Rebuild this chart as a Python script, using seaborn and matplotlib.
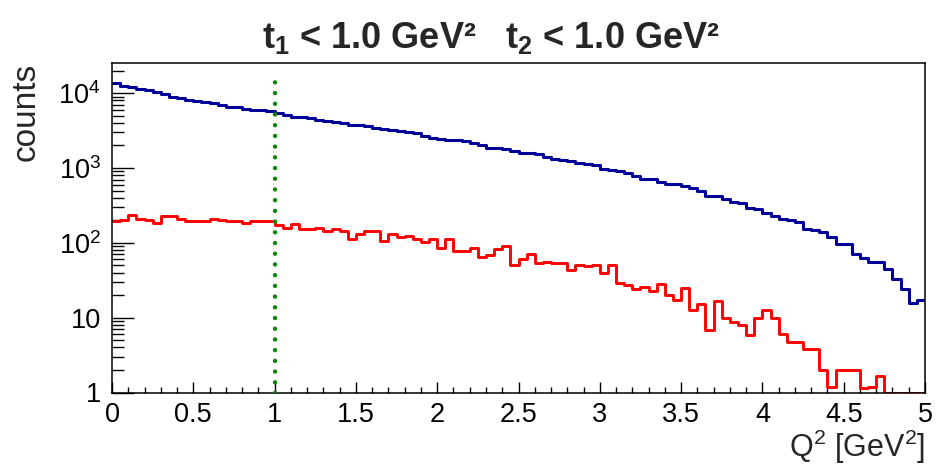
import numpy as np
import pandas as pd
import matplotlib
matplotlib.use("Agg")
import matplotlib.pyplot as plt
import seaborn as sns
from matplotlib.ticker import FixedLocator, MultipleLocator, NullFormatter, LogLocator, FuncFormatter

# Q^2 binning: 100 bins between 0 and 5 GeV^2
q2_min, q2_max, n_bins = 0.0, 5.0, 100
t_cut = 1.0  # GeV^2, green marker line

# counts per bin, all events (blue)
blue_counts = [13800, 12600, 12200, 11400, 11000, 10500, 9750, 9000, 8650, 8200,
               7850, 7650, 7300, 7000, 6550, 6450, 6100, 6000, 5900, 5700,
               5400, 5050, 4850, 4800, 4600, 4330, 4300, 4070, 4030, 3800,
               3700, 3600, 3450, 3280, 3250, 3100, 3030, 2900, 2700, 2500,
               2460, 2390, 2340, 2290, 2150, 2030, 1870, 1830, 1770, 1670,
               1600, 1590, 1540, 1420, 1300, 1290, 1250, 1150, 1140, 1080,
               980, 930, 920, 850, 780, 720, 710, 650, 620, 615,
               580, 545, 490, 425, 420, 387, 353, 336, 294, 279,
               254, 229, 207, 199, 191, 155, 147, 140, 118, 95,
               95, 70, 63, 56, 56, 44, 33, 24, 15.7, 17.4]

# counts per bin, selected events (red); empty bins drawn on the axis floor
red_counts = [195, 203, 234, 211, 203, 185, 225, 225, 207, 195,
              195, 195, 207, 201, 195, 195, 185, 195, 195, 195,
              172, 160, 177, 154, 154, 160, 144, 154, 143, 111,
              133, 143, 143, 105, 130, 119, 123, 114, 101, 111,
              86, 112, 78, 78, 86, 64, 68, 82, 91, 50,
              60, 70, 54, 56, 54, 54, 43, 51, 49, 51,
              40, 50, 29, 27, 24, 26, 23, 28.5, 20, 17.4,
              25, 12.8, 15.4, 6.8, 16.7, 9.9, 8.7, 7.9, 5.9, 10,
              12.8, 10, 6, 4.8, 4.8, 3.8, 3.8, 2, 1.2, 2,
              2, 2, 1.15, 1.2, 1.64, 1, 1, 1, 1, 1]

y_range = (1, 25500)
cut_line_top = 15500

y_ticks = [1, 10, 100, 1000, 10000]
y_ticklabels = ["1", "10", "10$^2$", "10$^3$", "10$^4$"]

sns.set_style("white")
plt.rcParams['font.family'] = ['Liberation Sans', 'DejaVu Sans']
plt.rcParams['mathtext.default'] = 'regular'

edges = np.linspace(q2_min, q2_max, n_bins + 1)
df = pd.DataFrame({
    "q2": 0.5 * (edges[:-1] + edges[1:]),
    "all": blue_counts,
    "sel": red_counts,
})

fig = plt.figure(figsize=(9.43, 4.70), dpi=100)
ax = fig.add_axes([112 / 943, 1 - 392.5 / 470, (925 - 112) / 943, (392.5 - 62.7) / 470])

sns.histplot(data=df, x="q2", weights="all", bins=n_bins, binrange=(q2_min, q2_max),
             element="step", fill=False, color="#000099", linewidth=2.2, ax=ax)
sns.histplot(data=df, x="q2", weights="sel", bins=n_bins, binrange=(q2_min, q2_max),
             element="step", fill=False, color="#ff0000", linewidth=2.1, ax=ax)
ax.vlines(t_cut, y_range[0], cut_line_top, color="#0a870a", linewidth=3.2,
          linestyles=[(0, (0.01, 2.4))], capstyle="round", zorder=3)

ax.set_yscale("log")
ax.set_xlim(q2_min, q2_max)
ax.set_ylim(*y_range)

ax.yaxis.set_major_locator(FixedLocator(y_ticks))
ax.set_yticklabels(y_ticklabels)
ax.yaxis.set_minor_locator(LogLocator(base=10, subs=np.arange(2, 10)))
ax.yaxis.set_minor_formatter(NullFormatter())
ax.xaxis.set_major_locator(MultipleLocator(0.5))
ax.xaxis.set_minor_locator(MultipleLocator(0.1))
ax.xaxis.set_major_formatter(FuncFormatter(lambda v, p: f"{v:g}"))

ax.tick_params(axis="both", which="both", direction="in", labelsize=19.5, colors="black",
               bottom=True, left=True, top=False, right=False)
ax.tick_params(axis="y", which="major", length=15.8, width=1.0, pad=8)
ax.tick_params(axis="y", which="minor", length=8.4, width=1.0)
ax.tick_params(axis="x", which="major", length=7.9, width=1.0, pad=6.5)
ax.tick_params(axis="x", which="minor", length=4.3, width=1.0)
for s in ax.spines.values():
    s.set_linewidth(1.1)
    s.set_color("black")

ax.set_xlabel("Q$^2$ [GeV$^2$]", fontsize=22, loc="right", labelpad=0)
ax.set_ylabel("counts", fontsize=24, loc="top", labelpad=12)

fig.text(0.52, 0.919, "t$_1$ < 1.0 GeV²   t$_2$ < 1.0 GeV²", ha="center", va="center",
         fontsize=26, fontweight="bold")

fig.savefig("out.png", dpi=100)
plt.close(fig)
